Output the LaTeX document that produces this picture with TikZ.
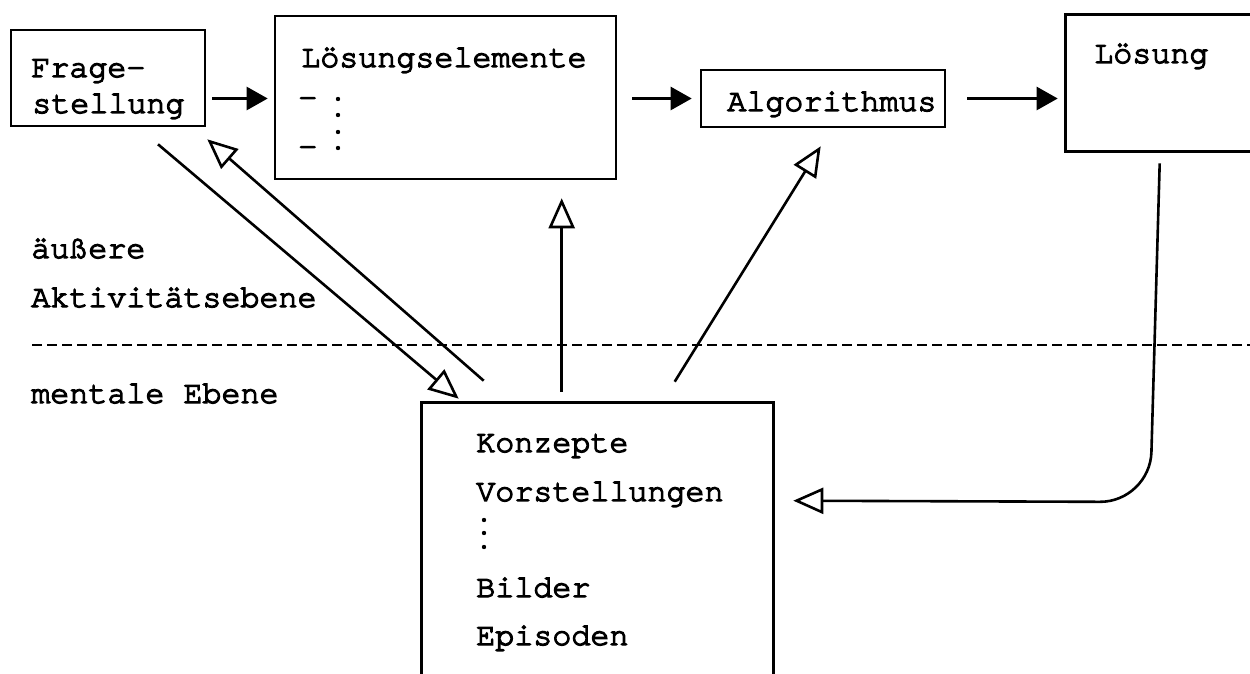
\documentclass[tikz,border=0pt]{standalone}
\usepackage{fontspec}
\setmainfont{texgyrecursor}[Extension=.otf, UprightFont=*-regular,
  BoldFont=*-bold, FakeBold=4]
\usetikzlibrary{positioning, calc, arrows.meta}

\begin{document}
\begin{tikzpicture}[x=0.5pt, y=-0.5pt, line width=1.3pt,
    box/.style={draw, inner sep=0pt},
    txt/.style={anchor=base west, inner sep=0pt, font=\fontsize{15.85}{19}\selectfont},
    filled-tip/.style={-{Triangle[length=10.5pt, width=11.5pt]}},
    open-tip/.style={-{Triangle[open, length=15pt, width=13pt]}}]
    \useasboundingbox (0,0) rectangle (1250,674);

    % boxes of the upper level
    \node[box, minimum width=97pt, minimum height=48pt] (frage) at (108,78) {};
    \node[box, minimum width=170.5pt, minimum height=81.5pt] (elemente) at (445.5,97.5) {};
    \node[box, minimum width=122pt, minimum height=28.5pt] (algorithmus) at (823,98.5) {};
    \node[inner sep=0pt, minimum width=91.5pt, minimum height=67pt] (loesung) at (1158.5,83) {};
    \draw (loesung.north east) -- (loesung.north west) -- (loesung.south west)
      -- (loesung.south east);

    \node[txt] (frage-t1) at (30,77) {Frage-};
    \node[txt] (frage-t2) at (31,113) {stellung};
    \node[txt] (elemente-t) at (300,67) {Lösungselemente};
    \node[txt] (strich-1) at (297,107) {-};
    \node[txt] (strich-2) at (297,156) {-};
    \foreach \y in {99, 115, 132, 148}{
      \fill (338,\y) circle (1.1pt);
    }
    \node[txt] (algorithmus-t) at (726,111) {Algorithmus};
    \node[txt] (loesung-t) at (1093,63) {Lösung};

    % levels
    \node[txt] (aeussere-t1) at (30,258) {äußere};
    \node[txt] (aeussere-t2) at (30,307) {Aktivitätsebene};
    \coordinate (ebene-links) at (32,345);
    \coordinate (ebene-rechts) at (1250,345);
    \draw[dash pattern=on 5pt off 2.5pt] (ebene-links) -- (ebene-rechts);
    \node[txt] (mental-t) at (30,403) {mentale Ebene};

    % box of the mental level
    \node[inner sep=0pt, minimum width=174.5pt, minimum height=135pt] (mental) at (597.5,539) {};
    \draw (mental.south west) -- (mental.north west) -- (mental.north east)
      -- (mental.south east);
    \node[txt] (konzepte-t) at (475,452) {Konzepte};
    \node[txt] (vorstellungen-t) at (475,501) {Vorstellungen};
    \foreach \y in {520, 533, 547}{
      \fill (484,\y) circle (1.1pt);
    }
    \node[txt] (bilder-t) at (475,597) {Bilder};
    \node[txt] (episoden-t) at (475,645) {Episoden};

    % arrows between the boxes
    \draw[filled-tip, shorten <=3pt, shorten >=3pt]
      (frage.east |- algorithmus) -- (elemente.west |- algorithmus);
    \draw[filled-tip, shorten <=7.5pt, shorten >=4pt]
      (elemente.east |- algorithmus) -- (algorithmus.west);
    \draw[filled-tip, shorten <=10.5pt, shorten >=4pt]
      (algorithmus.east) -- (loesung.west |- algorithmus);

    % arrows between the levels
    \draw[open-tip] ($(frage.south)+(50,17)$) -- ($(mental.north west)+(37,-4)$);
    \draw[open-tip] ($(mental.north west)+(62,-22)$) -- ($(frage.south east)+(1,12)$);
    \draw[open-tip] ($(mental.north west)+(140,-11)$) -- ($(elemente.south west)+(288,18)$);
    \draw[open-tip] ($(mental.north west)+(253,-21)$) -- ($(algorithmus.south west)+(121,18)$);
    \coordinate (ruecklauf-ecke) at (1150,502);
    \draw[open-tip, rounded corners=25pt] ($(loesung.south west)+(94,12)$)
      -- (ruecklauf-ecke) -- ($(mental.north east)+(20,98)$);
\end{tikzpicture}
\end{document}
